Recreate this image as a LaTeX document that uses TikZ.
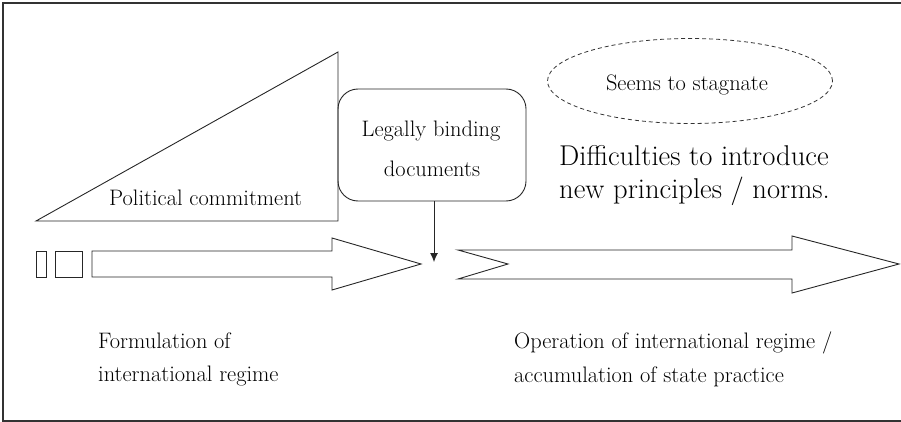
\documentclass[tikz,border=0pt]{standalone}
\usetikzlibrary{arrows.meta,shapes.geometric}
\begin{document}
\begin{tikzpicture}[x=1pt,y=-1pt,
  outline/.style={draw=black!85,line width=0.9pt,line join=miter},
  txt/.style={font=\fontsize{22.4}{26}\selectfont,inner sep=0pt,anchor=base west},
  ctxt/.style={font=\fontsize{22.4}{26}\selectfont,inner sep=0pt,anchor=base},
  bigtxt/.style={font=\fontsize{28.6}{33}\selectfont,inner sep=0pt,anchor=base west}]
\useasboundingbox (0,0) rectangle (901,422);
% frame
\draw[line width=1.3pt,black!80] (901,3) -- (3,3) -- (3,421) -- (901,421);
% political commitment triangle
\draw[outline] (36,221) -- (338,52) -- (338,221) -- cycle;
\node[txt] (pol) at (109,205) {Political commitment};
% small boxes and first arrow
\draw[outline] (36,251) rectangle (46,277);
\draw[outline] (55,251) rectangle (82,277);
\draw[outline] (92,251) -- (332,251) -- (332,238) -- (421,264) -- (332,290) -- (332,277) -- (92,277) -- cycle;
% second arrow
\draw[outline] (458,250) -- (792,250) -- (792,236) -- (899,264) -- (792,293) -- (792,279) -- (458,279) -- (508,264) -- cycle;
% legally binding box
\node[outline,rounded corners=20pt,minimum width=188pt,minimum height=112pt,inner sep=0pt] (legal) at (432,145) {};
\node[ctxt] (legal1) at (431,137) {Legally binding};
\node[ctxt] (legal2) at (432,176.5) {documents};
\coordinate (drop) at (434,262);
\draw[line width=0.9pt,black!85,-{Latex[length=9pt,width=8pt]}] (legal.south -| drop) -- (drop);
% stagnate ellipse
\node[ellipse,draw=black!80,line width=0.8pt,dash pattern=on 4pt off 3pt,minimum width=285pt,minimum height=85pt,inner sep=0pt] (stag) at (690,81) {};
\node[ctxt] (stagtxt) at (687,90.5) {Seems to stagnate};
% difficulties
\node[bigtxt] (diff1) at (559,165.7) {Difficulties to introduce};
\node[bigtxt] (diff2) at (559,198) {new principles / norms.};
% bottom labels
\node[txt] (form1) at (98,348) {Formulation of};
\node[txt] (form2) at (98,381) {international regime};
\node[txt] (oper1) at (514,348) {Operation of international regime /};
\node[txt] (oper2) at (514,382) {accumulation of state practice};
\end{tikzpicture}
\end{document}
